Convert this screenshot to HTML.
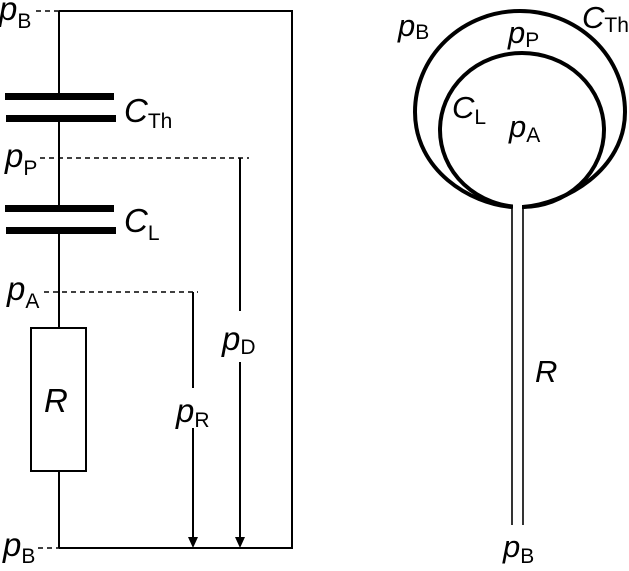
<!DOCTYPE html>
<html><head><meta charset="utf-8"><style>
html,body{margin:0;padding:0;background:#fff;}
svg text{font-family:"Liberation Sans",sans-serif;}
.p{font-style:italic;font-size:33px;}
.q{font-style:italic;font-size:31px;}
.s{font-size:21px;font-style:normal;}
</style></head><body>
<svg width="629" height="566" viewBox="0 0 629 566" xmlns="http://www.w3.org/2000/svg">
<g stroke="#000" stroke-width="2" fill="none">
<line x1="59" y1="11" x2="59" y2="96"/>
<line x1="59" y1="118" x2="59" y2="208"/>
<line x1="59" y1="230" x2="59" y2="328"/>
<line x1="59" y1="471" x2="59" y2="548"/>
<polyline points="59,11 292,11 292,548 59,548"/>
<rect x="31" y="328" width="55" height="143"/>
<g stroke-dasharray="5,4" stroke-width="1.5">
<line x1="36" y1="11" x2="59" y2="11"/>
<line x1="40" y1="158" x2="249" y2="158"/>
<line x1="44" y1="292" x2="198" y2="292"/>
<line x1="38" y1="548" x2="59" y2="548"/>
</g>
<line x1="240" y1="158" x2="240" y2="311"/>
<line x1="240" y1="362" x2="240" y2="538"/>
<line x1="193" y1="292" x2="193" y2="388"/>
<line x1="193" y1="428" x2="193" y2="538"/>
</g>
<polygon points="235,537 245,537 240,548" fill="#000"/>
<polygon points="188,537 198,537 193,548" fill="#000"/>
<rect x="5" y="93" width="109" height="7" fill="#000"/>
<rect x="6" y="115" width="110" height="7" fill="#000"/>
<rect x="5" y="205" width="109" height="7" fill="#000"/>
<rect x="6" y="227" width="110" height="7" fill="#000"/>

<text x="-1" y="20" class="p">p<tspan class="s" dy="8">B</tspan></text>
<text x="124" y="122" class="p">C<tspan class="s" dy="6">Th</tspan></text>
<text x="5" y="167" class="p">p<tspan class="s" dy="8">P</tspan></text>
<text x="124" y="232" class="p">C<tspan class="s" dy="8">L</tspan></text>
<text x="7" y="300" class="p">p<tspan class="s" dy="8">A</tspan></text>
<text x="44" y="412" class="p">R</text>
<text x="222" y="350" class="p">p<tspan class="s" dy="4">D</tspan></text>
<text x="176" y="422" class="p">p<tspan class="s" dy="5">R</tspan></text>
<text x="3" y="556" class="p">p<tspan class="s" dy="7">B</tspan></text>

<g stroke="#000" fill="none">
<path d="M512,207 C470,204 415,170 415,112 A105,101 0 0 1 625,112 C625,170 565,204 523,207" stroke-width="4"/>
<ellipse cx="522" cy="130" rx="82" ry="77" stroke-width="4"/>
<line x1="512" y1="207" x2="512" y2="525" stroke-width="1.6"/>
<line x1="523" y1="207" x2="523" y2="525" stroke-width="1.6"/>
</g>
<rect x="513" y="200" width="9" height="12" fill="#fff"/>
<text x="398" y="36" class="q">p<tspan class="s" dy="3">B</tspan></text>
<text x="508" y="43" class="q">p<tspan class="s" dy="4">P</tspan></text>
<text x="582" y="28" class="q">C<tspan class="s" dy="4">Th</tspan></text>
<text x="452" y="118" class="q">C<tspan class="s" dy="6">L</tspan></text>
<text x="509" y="137" class="q">p<tspan class="s" dy="5">A</tspan></text>
<text x="535" y="382" class="q">R</text>
<text x="503" y="557" class="q">p<tspan class="s" dy="6">B</tspan></text>
</svg>
</body></html>
